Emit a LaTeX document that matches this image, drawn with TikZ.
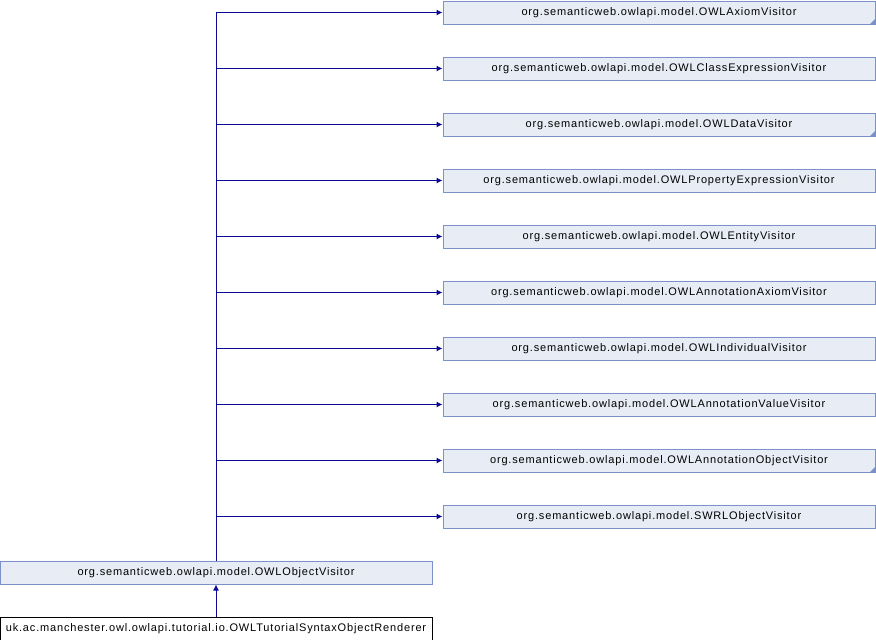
\documentclass[tikz,border=0pt]{standalone}
\usepackage{fontspec}
\setmainfont{Liberation Sans}
\newfontfamily\boxfont[LetterSpace=7.5]{Liberation Sans}
\usetikzlibrary{arrows.meta}
\definecolor{boxfill}{RGB}{232,236,244}
\definecolor{boxline}{RGB}{122,146,200}
\definecolor{edgecol}{RGB}{10,10,150}
\tikzset{
  classbox/.style={draw=boxline, fill=boxfill, line width=1pt, minimum width=432pt,
    minimum height=23pt, inner sep=0pt, font=\boxfont\fontsize{11}{12}\selectfont},
  thisbox/.style={classbox, draw=black, fill=white},
  inherit/.style={edgecol, line width=1pt, {Latex[length=6pt,width=6pt]}-}
}
\newcommand{\truncmark}[1]
{   \fill[boxline] (#1.south east) -- ++(-6pt,0pt) -- ++(6pt,6pt) -- cycle;
}

\begin{document}
\begin{tikzpicture}[x=1pt,y=-1pt]
 \useasboundingbox (0,0) rectangle (876,640);

 \node[classbox] (axiom)   at (659,12.5)  {org.semanticweb.owlapi.model.OWLAxiomVisitor};
 \node[classbox] (classex) at (659,68.5)  {org.semanticweb.owlapi.model.OWLClassExpressionVisitor};
 \node[classbox] (data)    at (659,124.5) {org.semanticweb.owlapi.model.OWLDataVisitor};
 \node[classbox] (propex)  at (659,180.5) {org.semanticweb.owlapi.model.OWLPropertyExpressionVisitor};
 \node[classbox] (entity)  at (659,236.5) {org.semanticweb.owlapi.model.OWLEntityVisitor};
 \node[classbox] (annax)   at (659,292.5) {org.semanticweb.owlapi.model.OWLAnnotationAxiomVisitor};
 \node[classbox] (indiv)   at (659,348.5) {org.semanticweb.owlapi.model.OWLIndividualVisitor};
 \node[classbox] (annval)  at (659,404.5) {org.semanticweb.owlapi.model.OWLAnnotationValueVisitor};
 \node[classbox] (annobj)  at (659,460.5) {org.semanticweb.owlapi.model.OWLAnnotationObjectVisitor};
 \node[classbox] (swrl)    at (659,516.5) {org.semanticweb.owlapi.model.SWRLObjectVisitor};
 \node[classbox] (objvis)  at (216,572.5) {org.semanticweb.owlapi.model.OWLObjectVisitor};
 \node[thisbox]  (render)  at (216,628.5) {uk.ac.manchester.owl.owlapi.tutorial.io.OWLTutorialSyntaxObjectRenderer};

 \truncmark{axiom} \truncmark{data} \truncmark{annobj}

 \foreach \b in {axiom,classex,data,propex,entity,annax,indiv,annval,annobj,swrl}
   \draw[inherit] (\b.west) -| (objvis.north);
 \draw[inherit] (objvis.south) -- (render.north);

\end{tikzpicture}
\end{document}
